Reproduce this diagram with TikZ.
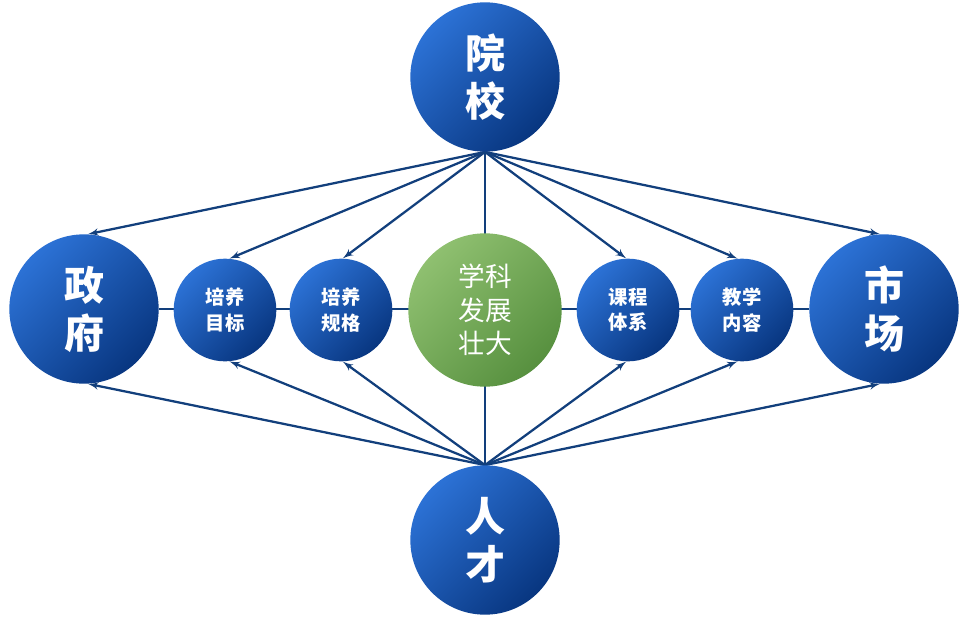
\documentclass[tikz,border=0pt]{standalone}
\usepackage{fontspec}
\newfontfamily\cjk{Noto Sans CJK SC}
\usetikzlibrary{arrows,positioning,backgrounds}
\definecolor{ballhi}{HTML}{2C72D6}
\definecolor{balllo}{HTML}{083680}
\definecolor{leafhi}{HTML}{8FC070}
\definecolor{leaflo}{HTML}{57903F}
\definecolor{wire}{HTML}{123F7C}
\tikzset{
  ball/.style={circle,inner sep=0pt,top color=ballhi,bottom color=balllo,shading angle=45,
    text=white,font=\cjk\bfseries,align=center},
  bigball/.style={ball,minimum size=112pt,font=\cjk\bfseries\fontsize{30}{36}\selectfont},
  smallball/.style={ball,minimum size=77pt,font=\cjk\bfseries\fontsize{14.5}{19}\selectfont},
  wire/.style={draw=wire,line width=1.7pt}
}
\begin{document}
\begin{tikzpicture}[x=0.75pt,y=-0.75pt,>=latex']
    \useasboundingbox (0,0) rectangle (969,635);
    \node [bigball] (yx) at (485,77) {院\\校};
    \node [bigball] (rc) at (485,540) {人\\才};
    \node [bigball] (zf) at (84,309) {政\\府};
    \node [bigball] (sc) at (884,309) {市\\场};
    \node [smallball] (mb) at (225,310) {培养\\目标};
    \node [smallball] (gg) at (341,310) {培养\\规格};
    \node [smallball] (tx) at (628,310) {课程\\体系};
    \node [smallball] (nr) at (742,310) {教学\\内容};
    \node [circle,inner sep=0pt,minimum size=115pt,top color=leafhi,bottom color=leaflo,shading angle=45,
      text=white,align=center,font=\cjk\fontsize{20}{25}\selectfont] (xk) at (485,310) {学科\\发展\\壮大};
    %%%%%%%%%
    \begin{scope}[on background layer]
        \draw[wire] (zf) -- (sc);
        \draw[wire] (yx) -- (rc);
        \draw[wire,->] (yx.south) -- (zf.87);
        \draw[wire,->] (yx.south) -- (mb.85);
        \draw[wire,->] (yx.south) -- (gg.88);
        \draw[wire,->] (yx.south) -- (tx.92);
        \draw[wire,->] (yx.south) -- (nr.95);
        \draw[wire,->] (yx.south) -- (sc.93);
        \draw[wire,->] (rc.north) -- (zf.-87);
        \draw[wire,->] (rc.north) -- (mb.-85);
        \draw[wire,->] (rc.north) -- (gg.-88);
        \draw[wire,->] (rc.north) -- (tx.-92);
        \draw[wire,->] (rc.north) -- (nr.-95);
        \draw[wire,->] (rc.north) -- (sc.-93);
    \end{scope}
\end{tikzpicture}
\end{document}
